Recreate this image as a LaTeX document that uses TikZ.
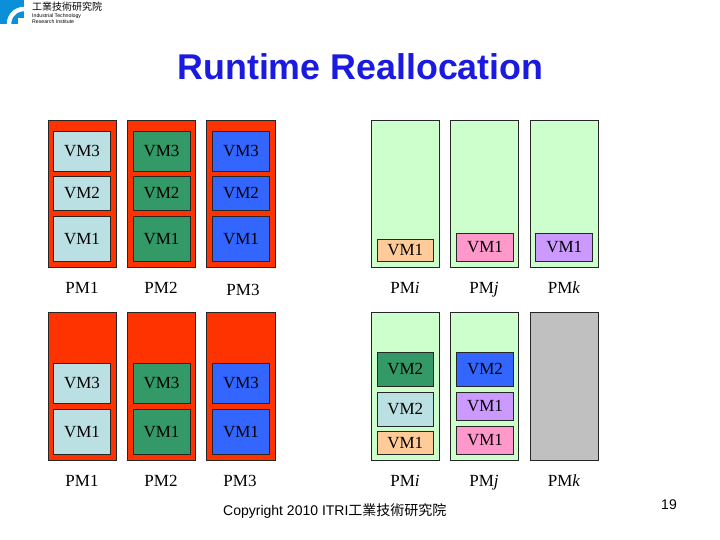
\documentclass[tikz,border=0pt]{standalone}
\usepackage{fontspec}
\setmainfont{Liberation Serif}
\setsansfont{Liberation Sans}
\newfontfamily\cjkfont{Noto Sans CJK TC}
\definecolor{title blue}{HTML}{1A1AE0}
\definecolor{logo blue}{HTML}{0A8FD8}
\definecolor{pm red}{HTML}{FF3300}
\definecolor{pm free}{HTML}{CCFFCC}
\definecolor{pm off}{HTML}{C0C0C0}
\definecolor{vm light}{HTML}{BBE0E3}
\definecolor{vm green}{HTML}{339966}
\definecolor{vm blue}{HTML}{3366FF}
\definecolor{vm orange}{HTML}{FFCC99}
\definecolor{vm pink}{HTML}{FF99CC}
\definecolor{vm purple}{HTML}{CC99FF}
\tikzset{pmbox/.style={draw=black!85, fill=#1, line width=0.9pt, minimum width=68.4pt, inner sep=0pt},
	vmbox/.style={draw=black!85, fill=#1, line width=0.9pt, minimum width=57pt, inner sep=0pt, font=\fontsize{17}{17}\selectfont},
	pmlabel/.style={inner sep=0pt, anchor=base, font=\fontsize{17}{17}\selectfont}}

\begin{document}
\begin{tikzpicture}[x=1pt, y=-1pt]
		\useasboundingbox (0,0) rectangle (720,540);
		% logo
		\fill[logo blue] (0,0) rectangle (24,24);
		\draw[white, line width=4.5pt] (9,24) arc (180:270:15);
		\fill[white] (18,18) rectangle (24,24);
		\node[inner sep=0pt, anchor=west, font=\cjkfont\fontsize{10}{10}\selectfont] (logoname) at (32,7) {工業技術研究院};
		\node[inner sep=0pt, anchor=north west, align=left, font=\sffamily\fontsize{5.2}{6}\selectfont] (logosub) at (32,13.5) {Industrial Technology\\Research Institute};
		\node[inner sep=0pt, text=title blue, font=\sffamily\bfseries\fontsize{35.8}{36}\selectfont] (title) at (360.5,67) {Runtime Reallocation};
		
		% upper left
		\node[pmbox=pm red, minimum height=147pt] (a1) at (82.5,193.8) {};
		\node[pmbox=pm red, minimum height=147pt] (a2) at (161.5,193.8) {};
		\node[pmbox=pm red, minimum height=147pt] (a3) at (241,193.8) {};
		\node[vmbox=vm light, minimum height=39.6pt] (a1v3) at (82,151.5) {VM3};
		\node[vmbox=vm light, minimum height=34pt] (a1v2) at (82,193.3) {VM2};
		\node[vmbox=vm light, minimum height=44.6pt] (a1v1) at (82,239) {VM1};
		\node[vmbox=vm green, minimum height=39.6pt] (a2v3) at (161.5,151.5) {VM3};
		\node[vmbox=vm green, minimum height=34pt] (a2v2) at (161.5,193.3) {VM2};
		\node[vmbox=vm green, minimum height=44.6pt] (a2v1) at (161.5,239) {VM1};
		\node[vmbox=vm blue, minimum height=39.6pt] (a3v3) at (241,151.5) {VM3};
		\node[vmbox=vm blue, minimum height=34pt] (a3v2) at (241,193.3) {VM2};
		\node[vmbox=vm blue, minimum height=44.6pt] (a3v1) at (241,239) {VM1};
		\node[pmlabel] (a1l) at (82,293.6) {PM1};
		\node[pmlabel] (a2l) at (161,293.6) {PM2};
		\node[pmlabel] (a3l) at (243,295.6) {PM3};
		
		% upper right
		\node[pmbox=pm free, minimum height=147pt] (b1) at (405.5,193.8) {};
		\node[pmbox=pm free, minimum height=147pt] (b2) at (484.5,193.8) {};
		\node[pmbox=pm free, minimum height=147pt] (b3) at (564.5,193.8) {};
		\node[vmbox=vm orange, minimum height=22pt, minimum width=56pt] (b1v1) at (405.3,250.3) {VM1};
		\node[vmbox=vm pink, minimum height=28pt] (b2v1) at (485,247.3) {VM1};
		\node[vmbox=vm purple, minimum height=28pt] (b3v1) at (564.2,247.3) {VM1};
		\node[pmlabel] (b1l) at (405,293.6) {PM\textit{i}};
		\node[pmlabel] (b2l) at (484,293.6) {PM\textit{j}};
		\node[pmlabel] (b3l) at (564,293.6) {PM\textit{k}};
		
		% lower left
		\node[pmbox=pm red, minimum height=148.4pt] (c1) at (82.5,386.5) {};
		\node[pmbox=pm red, minimum height=148.4pt] (c2) at (161.5,386.5) {};
		\node[pmbox=pm red, minimum height=148.4pt] (c3) at (241,386.5) {};
		\node[vmbox=vm light, minimum height=40pt] (c1v3) at (82,383.3) {VM3};
		\node[vmbox=vm light, minimum height=45pt] (c1v1) at (82,431.8) {VM1};
		\node[vmbox=vm green, minimum height=40pt] (c2v3) at (161.5,383.3) {VM3};
		\node[vmbox=vm green, minimum height=45pt] (c2v1) at (161.5,431.8) {VM1};
		\node[vmbox=vm blue, minimum height=40pt] (c3v3) at (241,383.3) {VM3};
		\node[vmbox=vm blue, minimum height=45pt] (c3v1) at (241,431.8) {VM1};
		\node[pmlabel] (c1l) at (82,486.6) {PM1};
		\node[pmlabel] (c2l) at (161,486.6) {PM2};
		\node[pmlabel] (c3l) at (240,486.6) {PM3};
		
		% lower right
		\node[pmbox=pm free, minimum height=148.4pt] (d1) at (405.5,386.5) {};
		\node[pmbox=pm free, minimum height=148.4pt] (d2) at (484.5,386.5) {};
		\node[pmbox=pm off, minimum height=148.4pt] (d3) at (564.5,386.5) {};
		\node[vmbox=vm green, minimum height=34pt, minimum width=56pt] (d1v3) at (405.3,369.3) {VM2};
		\node[vmbox=vm light, minimum height=34pt, minimum width=56pt] (d1v2) at (405.3,409.3) {VM2};
		\node[vmbox=vm orange, minimum height=23pt, minimum width=56pt] (d1v1) at (405.3,442.8) {VM1};
		\node[vmbox=vm blue, minimum height=34pt] (d2v3) at (485,369.3) {VM2};
		\node[vmbox=vm purple, minimum height=28pt] (d2v2) at (485,406.3) {VM1};
		\node[vmbox=vm pink, minimum height=28pt] (d2v1) at (485,440.3) {VM1};
		\node[pmlabel] (d1l) at (405,486.6) {PM\textit{i}};
		\node[pmlabel] (d2l) at (484,486.6) {PM\textit{j}};
		\node[pmlabel] (d3l) at (564,486.6) {PM\textit{k}};
		
		% footer
		\node[inner sep=0pt, anchor=west, font=\sffamily\fontsize{14}{14}\selectfont] (copy) at (223,511) {Copyright 2010 ITRI{\cjkfont 工業技術研究院}};
		\node[inner sep=0pt, font=\sffamily\fontsize{14}{14}\selectfont] (page) at (669,505) {19};
		\end{tikzpicture}
\end{document}
